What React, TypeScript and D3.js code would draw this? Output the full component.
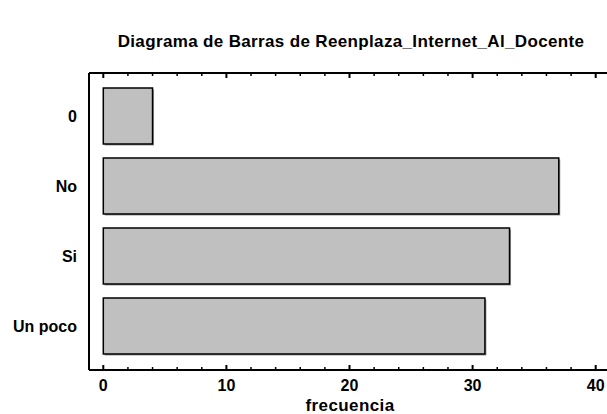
import React from "react";
import * as d3 from "d3";

const categories = ["0", "No", "Si", "Un poco"];
const frequencies = [4, 37, 33, 31];
const xTicks = [0, 10, 20, 30, 40];
const xMinorTicks = d3.range(0, 42, 2);
const title = "Diagrama de Barras de Reenplaza_Internet_Al_Docente";
const xLabel = "frecuencia";

const W = 607;
const H = 414;
const frameLeft = 89;
const frameTop = 73;
const frameBottom = 370;
const frameRight = 607;

export default function App() {
  const x = d3.scaleLinear().domain([0, 40]).range([103.3, 595.7]);
  const y = d3
    .scaleBand<string>()
    .domain(categories)
    .range([81, 361])
    .paddingInner(0.2)
    .paddingOuter(0.1);
  const font = "'Liberation Sans', Arial, sans-serif";

  return (
    <svg
      width={W}
      height={H}
      style={{ position: "absolute", left: 0, top: 0, background: "#fff" }}
      fontFamily={font}
    >
      <text x={351} y={47} textAnchor="middle" fontSize={17} fontWeight="bold" letterSpacing={0.35}>
        {title}
      </text>

      {categories.map((c, i) => (
        <g key={c}>
          <rect
            x={x(0) + 1.5}
            y={(y(c) as number) + 1.5}
            width={x(frequencies[i]) - x(0)}
            height={y.bandwidth()}
            fill="#9a9a9a"
          />
          <rect
            x={x(0)}
            y={y(c)}
            width={x(frequencies[i]) - x(0)}
            height={y.bandwidth()}
            fill="#c0c0c0"
            stroke="#000"
            strokeWidth={1.5}
          />
          <text
            x={77}
            y={(y(c) as number) + y.bandwidth() / 2}
            dy="0.35em"
            textAnchor="end"
            fontSize={16}
            fontWeight="bold"
          >
            {c}
          </text>
        </g>
      ))}

      <line x1={frameLeft} x2={frameLeft} y1={frameTop} y2={frameBottom} stroke="#000" strokeWidth={2} />
      <line x1={frameLeft} x2={frameRight} y1={frameTop} y2={frameTop} stroke="#000" strokeWidth={2} />
      <line x1={frameLeft} x2={frameRight} y1={frameBottom} y2={frameBottom} stroke="#000" strokeWidth={2} />

      {xMinorTicks.map((t) => {
        const major = t % 10 === 0;
        const len = major ? 5 : 3;
        return (
          <g key={t}>
            <line x1={x(t)} x2={x(t)} y1={frameBottom} y2={frameBottom - len} stroke="#000" strokeWidth={major ? 2 : 1.5} />
            <line x1={x(t)} x2={x(t)} y1={frameTop} y2={frameTop + len} stroke="#000" strokeWidth={major ? 2 : 1.5} />
          </g>
        );
      })}

      {xTicks.map((t) => (
        <text key={t} x={x(t)} y={391} textAnchor="middle" fontSize={16} fontWeight="bold">
          {t}
        </text>
      ))}

      <text x={350} y={411} textAnchor="middle" fontSize={17} fontWeight="bold" letterSpacing={0.4}>
        {xLabel}
      </text>
    </svg>
  );
}
